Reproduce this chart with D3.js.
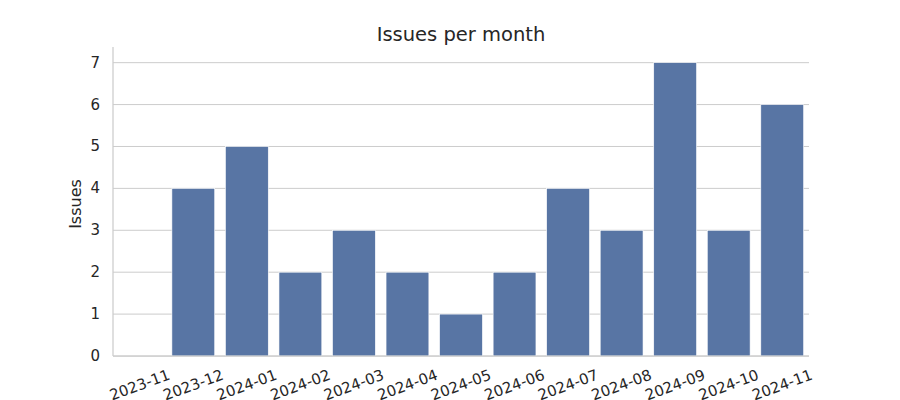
<!DOCTYPE html>
<html><head><meta charset="utf-8">
<script src="https://cdn.jsdelivr.net/npm/d3@7"></script>
<style>body{margin:0;background:#fff}text{font-family:"DejaVu Sans",sans-serif;fill:#262626}</style>
</head><body><svg id="c" width="900" height="400"></svg>
<script>
const months = ["2023-11","2023-12","2024-01","2024-02","2024-03","2024-04","2024-05","2024-06","2024-07","2024-08","2024-09","2024-10","2024-11"];
const issues = [0,4,5,2,3,2,1,2,4,3,7,3,6];
const yTicks = [0,1,2,3,4,5,6,7];

const svg = d3.select("#c");
const m = {l:113, r:809, t:48, b:356};
const x = d3.scaleBand().domain(months).range([m.l, m.r]).paddingInner(0.2).paddingOuter(0.1);
const y = d3.scaleLinear().domain([0, 7.35]).range([m.b, m.t]);

// grid
svg.append("g").selectAll("line").data(yTicks).join("line")
  .attr("x1", m.l).attr("x2", m.r).attr("y1", d=>y(d)).attr("y2", d=>y(d))
  .attr("stroke", "#cccccc").attr("stroke-width", 1);

// bars
svg.append("g").selectAll("rect").data(months).join("rect")
  .attr("x", d=>x(d)).attr("width", x.bandwidth())
  .attr("y", (d,i)=>y(issues[i])).attr("height", (d,i)=>y(0)-y(issues[i]))
  .attr("fill", "#5875a4").attr("stroke", "#ffffff").attr("stroke-width", 0.6);

// spines
svg.append("line").attr("x1", m.l).attr("x2", m.l).attr("y1", m.t-1).attr("y2", m.b)
  .attr("stroke", "#cccccc").attr("stroke-width", 1.25);
svg.append("line").attr("x1", m.l).attr("x2", m.r).attr("y1", m.b).attr("y2", m.b)
  .attr("stroke", "#cccccc").attr("stroke-width", 1.25);

// y tick labels
svg.append("g").selectAll("text").data(yTicks).join("text")
  .attr("x", 100).attr("y", d=>y(d)).attr("text-anchor", "end")
  .attr("dominant-baseline", "central").attr("font-size", 15).text(d=>d);

// x tick labels
svg.append("g").selectAll("text").data(months).join("text")
  .attr("transform", d=>`translate(${x(d)+x.bandwidth()/2},385) rotate(-20)`)
  .attr("text-anchor", "middle").attr("dominant-baseline", "central")
  .attr("font-size", 15).text(d=>d);

// y label
svg.append("text").attr("transform", `translate(75,${(m.t+m.b)/2+2}) rotate(-90)`)
  .attr("text-anchor", "middle").attr("dominant-baseline", "central")
  .attr("font-size", 16).text("Issues");

// title
svg.append("text").attr("x", (m.l+m.r)/2).attr("y", 34).attr("text-anchor", "middle")
  .attr("dominant-baseline", "central").attr("font-size", 19.5).text("Issues per month");
</script></body></html>
